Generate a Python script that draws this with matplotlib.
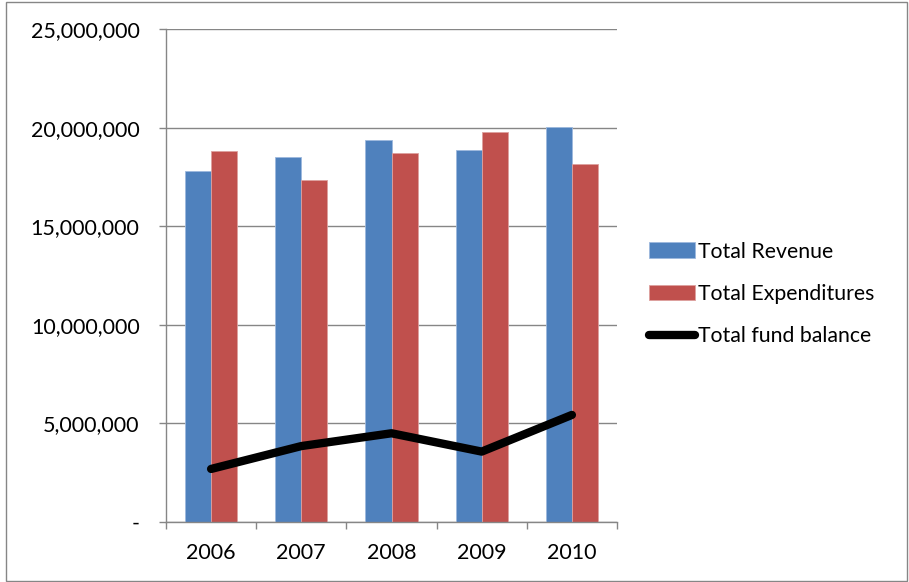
import matplotlib
matplotlib.use("Agg")
import matplotlib.pyplot as plt
import numpy as np
from matplotlib.patches import Rectangle
from matplotlib.ticker import FuncFormatter, FixedLocator

years = ["2006", "2007", "2008", "2009", "2010"]
total_revenue = [17810000, 18490000, 19360000, 18850000, 20020000]
total_expenditures = [18800000, 17340000, 18700000, 19790000, 18140000]
total_fund_balance = [2690000, 3850000, 4500000, 3570000, 5430000]

plt.rcParams['font.family'] = ['Lato', 'DejaVu Sans']

fig = plt.figure(figsize=(9.09, 5.82), dpi=100)
ax = fig.add_axes([166/909, 1-522/582, (617-166)/909, (522-29)/582])

x = np.arange(len(years))
w = 0.29
b1 = ax.bar(x - w/2, total_revenue, width=w, color="#4F81BD", edgecolor="#9DB9DD", linewidth=0.6,
            label="Total Revenue", zorder=2)
b2 = ax.bar(x + w/2, total_expenditures, width=w, color="#C0504D", edgecolor="#DDA09E", linewidth=0.6,
            label="Total Expenditures", zorder=2)
l1, = ax.plot(x, total_fund_balance, color="black", linewidth=6, solid_capstyle="round",
              solid_joinstyle="round", label="Total fund balance", zorder=3)

ax.set_xlim(-0.5, len(years) - 0.5)
ax.set_ylim(0, 25000000)
ax.set_yticks(np.arange(0, 25000001, 5000000))
ax.yaxis.set_major_formatter(FuncFormatter(lambda v, p: "-" if v == 0 else f"{int(v):,}"))
ax.set_xticks(x)
ax.set_xticklabels(years)
ax.xaxis.set_minor_locator(FixedLocator(np.arange(-0.5, len(years), 1)))
ax.tick_params(axis="x", which="major", length=0, pad=15, labelsize=15.5)
ax.tick_params(axis="x", which="minor", length=5, color="#868686", width=1)
ax.tick_params(axis="y", length=5, color="#868686", width=1, labelsize=15.5, pad=14)

ax.grid(axis="y", color="#868686", linewidth=1, zorder=0)
ax.set_axisbelow(True)
for s in ["top", "right"]:
    ax.spines[s].set_visible(False)
for s in ["left", "bottom"]:
    ax.spines[s].set_color("#868686")
    ax.spines[s].set_linewidth(1)

leg = fig.legend(handles=[b1, b2, l1], loc="upper left", bbox_to_anchor=(640/909, 1-233/582),
                 frameon=False, fontsize=15.3, handlelength=2.2, handleheight=0.75,
                 labelspacing=1.05, handletextpad=0.15, borderaxespad=0)

fig.patches.append(Rectangle((6/909, 1/582), 901/909, 579/582, transform=fig.transFigure,
                             fill=False, edgecolor="#868686", linewidth=1))

fig.savefig("out.png", dpi=100)
